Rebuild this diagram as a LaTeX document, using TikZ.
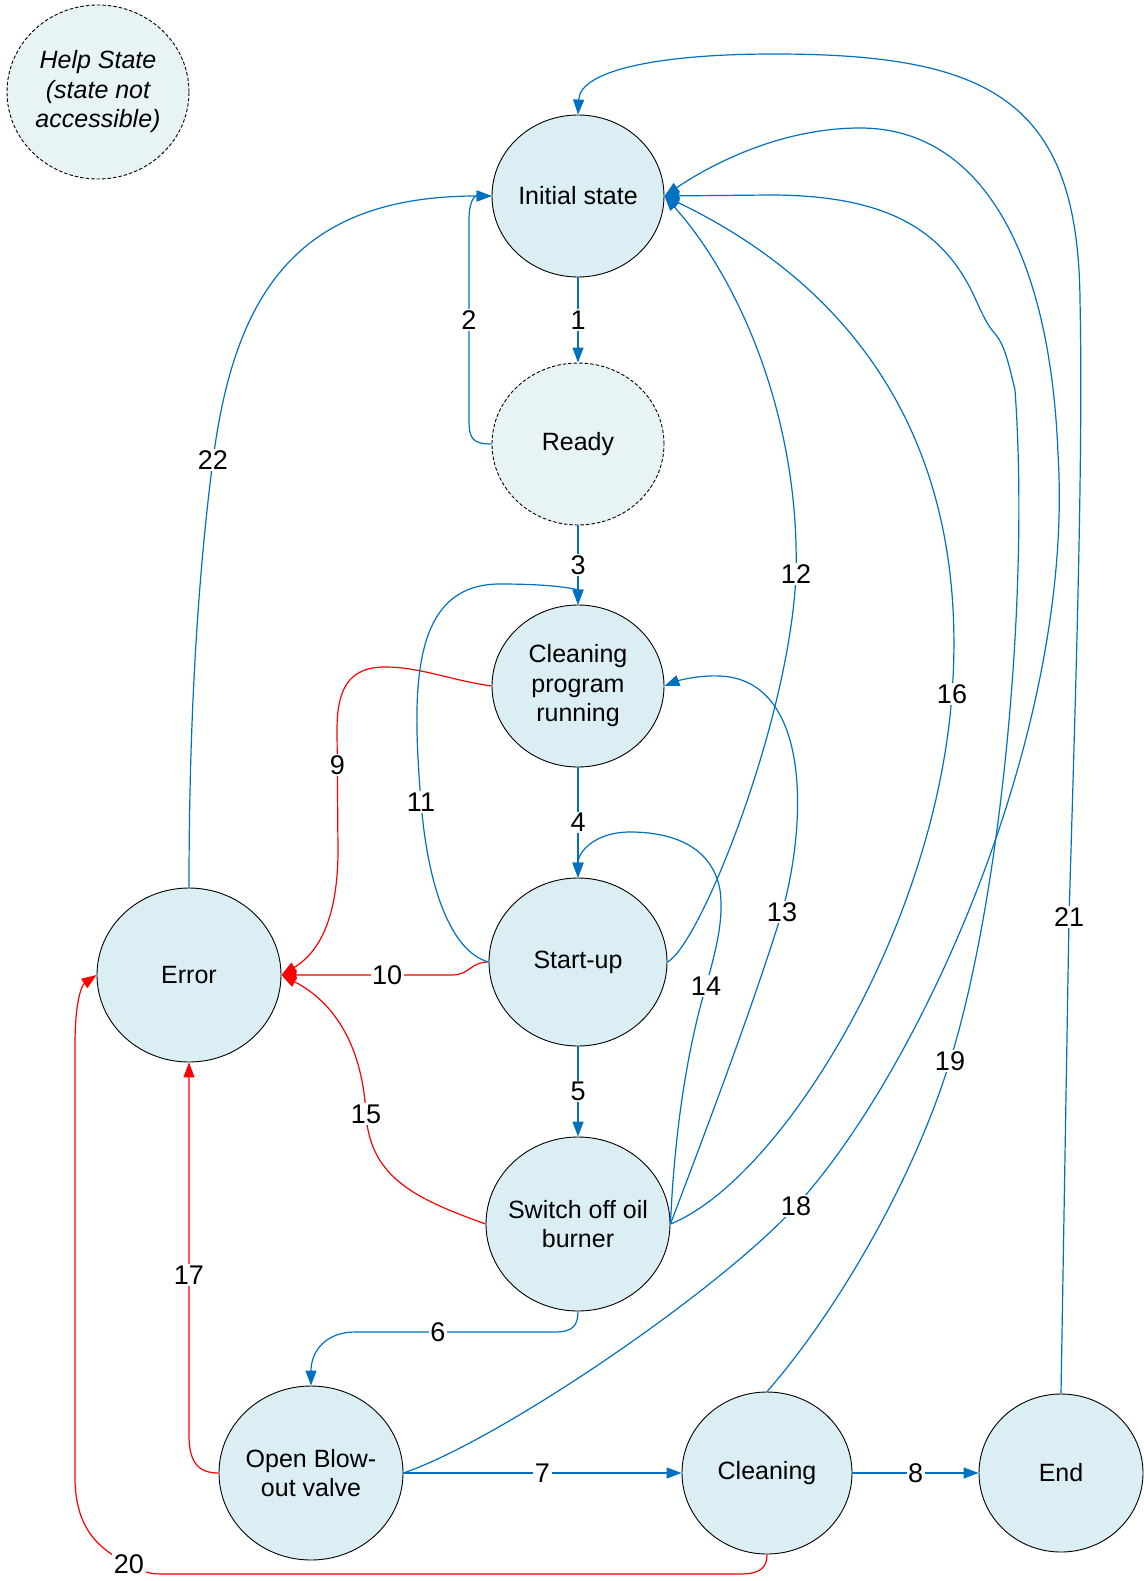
\documentclass[tikz,border=0pt]{standalone}
\usepackage{fontspec}
\setmainfont{Liberation Sans}
\usetikzlibrary{shapes.geometric,arrows.meta}
\definecolor{lineblue}{HTML}{0070C0}
\definecolor{linered}{HTML}{FF0000}
\definecolor{statefill}{HTML}{DAEEF3}
\definecolor{helpfill}{HTML}{E7F3F5}

\begin{document}
\begin{tikzpicture}[x=1pt,y=-1pt,
  stnode/.style={ellipse, draw=black, line width=0.9pt, fill=statefill, inner sep=0pt},
  hnode/.style={stnode, fill=helpfill, dash pattern=on 3.5pt off 2pt},
  stxt/.style={align=center, font=\fontsize{25}{29.5}\selectfont, inner sep=0pt},
  lbl/.style={fill=white, inner sep=1.5pt, font=\fontsize{27}{30}\selectfont},
  arr/.style={-{Triangle[length=15pt,width=11pt]}},
  bl/.style={draw=lineblue, line width=1.2pt},
  rd/.style={draw=linered, line width=1.2pt},
]
\useasboundingbox (0,0) rectangle (1143,1581);

% states
\node[hnode, minimum width=182pt, minimum height=174pt,
  label={[stxt, font=\fontsize{25}{29.5}\selectfont\itshape]center:{Help State\\(state not\\accessible)}}] (help) at (98,92) {};
\node[stnode, minimum width=172pt, minimum height=162pt,
  label={[stxt]center:{Initial state}}] (init) at (578,196) {};
\node[hnode, minimum width=172pt, minimum height=162pt,
  label={[stxt]center:{Ready}}] (ready) at (578,444) {};
\node[stnode, minimum width=172pt, minimum height=162pt,
  label={[stxt]center:{Cleaning\\program\\running}}] (cpr) at (578,686) {};
\node[stnode, minimum width=178pt, minimum height=168pt,
  label={[stxt]center:{Start-up}}] (start) at (578,962) {};
\node[stnode, minimum width=184pt, minimum height=174pt,
  label={[stxt]center:{Error}}] (error) at (189,975) {};
\node[stnode, minimum width=184pt, minimum height=174pt,
  label={[stxt]center:{Switch off oil\\burner}}] (switch) at (578,1224) {};
\node[stnode, minimum width=184pt, minimum height=174pt,
  label={[stxt]center:{Open Blow-\\out valve}}] (blow) at (311,1473) {};
\node[stnode, minimum width=170pt, minimum height=162pt,
  label={[stxt]center:{Cleaning}}] (clean) at (767,1473) {};
\node[stnode, minimum width=164pt, minimum height=158pt,
  label={[stxt]center:{End}}] (end) at (1061,1473) {};

% main sequence
\draw[bl,arr] (init.south) -- node[lbl]{1} (ready.north);
\draw[bl,arr] (ready.west) .. controls (472,444) and (469,438) .. (469,420)
  -- node[lbl]{2} (469,220) .. controls (469,202) and (474,196) .. (init.west);
\draw[bl,arr] (ready.south) -- node[lbl]{3} (cpr.north);
\draw[bl,arr] (cpr.south) -- node[lbl]{4} (start.north);
\draw[bl,arr] (start.south) -- node[lbl]{5} (switch.north);
\draw[bl,arr] (switch.south) .. controls (578,1326) and (572,1332) .. (555,1332)
  -- node[lbl,pos=0.585]{6} (355,1332) .. controls (325,1332) and (311,1352) .. (blow.north);
\draw[bl,arr] (blow.east) -- node[lbl]{7} (clean.west);
\draw[bl,arr] (clean.east) -- node[lbl]{8} (end.west);

% error transitions
\draw[rd,arr] (cpr.west) .. controls (450,680) and (420,667) .. (385,667)
  .. controls (348,667) and (337,690) .. (337,730)
  -- node[lbl,pos=0.29]{9} (338,850) .. controls (338,925) and (315,955) .. (error.east);
\draw[rd,arr] (start.west) .. controls (470,962) and (470,975) .. (452,975)
  -- node[lbl,pos=0.38]{10} (error.east);
\draw[rd,arr] (switch.west) .. controls (420,1200) and (370,1180) .. (366,1114) node[lbl]{15}
  .. controls (362,1040) and (330,1000) .. (error.east);
\draw[rd,arr] (blow.west) .. controls (198,1473) and (189,1462) .. (189,1435)
  -- node[lbl,pos=0.43]{17} (error.south);
\draw[rd,arr] (clean.south) .. controls (767,1568) and (760,1574) .. (740,1574)
  -- (160,1574) .. controls (145,1574) and (137,1568) .. (129,1564) node[lbl]{20}
  .. controls (100,1550) and (76,1530) .. (75,1480)
  -- (75,1045) .. controls (75,1000) and (82,985) .. (error.west);

% loops back
\draw[bl,arr] (start.west) .. controls (452,952) and (428,890) .. (421,802) node[lbl]{11}
  .. controls (412,690) and (410,584) .. (500,584)
  .. controls (560,584) and (578,590) .. (cpr.north);
\draw[bl,arr] (start.east) .. controls (700,945) and (790,720) .. (796,574) node[lbl]{12}
  .. controls (800,420) and (740,280) .. (init.east);
\draw[bl,arr] (switch.east) .. controls (710,1120) and (755,1000) .. (782,912) node[lbl]{13}
  .. controls (808,820) and (810,680) .. (720,676)
  .. controls (700,675) and (680,680) .. (cpr.east);
\draw[bl,arr] (switch.east) .. controls (675,1120) and (690,1040) .. (706,986) node[lbl]{14}
  .. controls (716,950) and (724,920) .. (720,890)
  .. controls (712,845) and (670,832) .. (630,832)
  .. controls (595,832) and (578,852) .. (start.north);
\draw[bl,arr] (switch.east) .. controls (780,1180) and (935,930) .. (952,694) node[lbl]{16}
  .. controls (970,450) and (860,290) .. (init.east);
\draw[bl,arr] (blow.east) .. controls (500,1440) and (720,1290) .. (796,1206) node[lbl]{18}
  .. controls (920,1070) and (1075,730) .. (1058,454)
  .. controls (1050,250) and (980,128) .. (860,128)
  .. controls (780,128) and (710,165) .. (init.east);
\draw[bl,arr] (clean.north) .. controls (830,1320) and (910,1190) .. (950,1061) node[lbl]{19}
  .. controls (1000,900) and (1030,600) .. (1015,390)
  .. controls (1008,360) and (1004,345) .. (996,335)
  .. controls (988,326) and (984,318) .. (975,298)
  .. controls (945,232) and (890,195) .. (770,195)
  -- (init.east);
\draw[bl,arr] (end.north) -- (1069,917) node[lbl]{21}
  .. controls (1077,650) and (1083,450) .. (1080,300)
  .. controls (1078,100) and (990,54) .. (774,54)
  .. controls (660,54) and (580,70) .. (init.north);
\draw[bl,arr] (error.north) .. controls (189,700) and (200,560) .. (213,460) node[lbl]{22}
  .. controls (235,290) and (300,196) .. (init.west);
\end{tikzpicture}
\end{document}
